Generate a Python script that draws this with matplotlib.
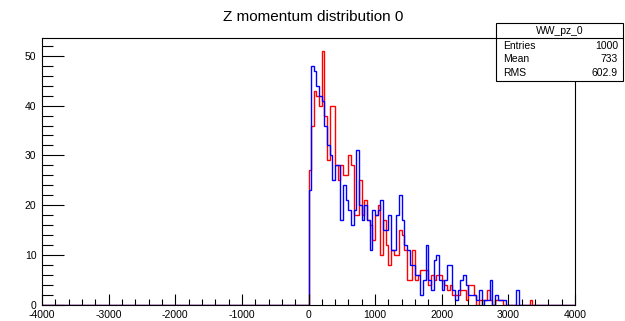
#!/usr/bin/env python3
"""Z momentum distribution, drawn in the style of a ROOT TH1 canvas."""

import numpy as np
import matplotlib
matplotlib.use("Agg")
import matplotlib.pyplot as plt
from matplotlib.ticker import MultipleLocator
from matplotlib.patches import Rectangle

plt.rcParams['font.family'] = ['Liberation Sans', 'DejaVu Sans']

# 200 bins of width 40 from -4000 to 4000; counts below are for bins starting at 0
x_min, x_max, n_bins = -4000, 4000, 200

blue_counts = [23, 48, 47, 44, 42, 41, 36, 32, 30, 25, 28, 28, 17, 24, 21, 19, 16, 19,
               31, 20, 17, 20, 17, 11, 19, 18, 19, 21, 15, 15, 18, 11, 11, 18, 22, 17,
               12, 11, 8, 8, 6, 6, 2, 5, 12, 5, 3, 9, 10, 5, 3, 5, 8, 8, 3, 1, 3, 5,
               6, 4, 2, 2, 2, 1, 3, 0, 1, 1, 5, 0, 2, 1, 1, 1, 0, 0, 0, 0, 3]
red_counts = [27, 36, 43, 42, 40, 51, 38, 29, 40, 40, 28, 25, 28, 26, 26, 30, 28, 18,
              18, 25, 18, 21, 17, 16, 13, 18, 20, 10, 17, 12, 8, 11, 10, 10, 15, 14,
              11, 5, 5, 11, 5, 6, 7, 7, 7, 4, 6, 5, 6, 6, 5, 4, 3, 4, 2, 2, 2, 3, 3,
              1, 4, 4, 2, 0, 1, 1, 1, 3, 1, 0, 1, 1, 1, 0, 0, 0, 0, 0, 0, 0, 0, 0, 0, 1]

x_ticks = [-4000, -3000, -2000, -1000, 0, 1000, 2000, 3000, 4000]
y_ticks = [0, 10, 20, 30, 40, 50]

title = "Z momentum distribution 0"
stats_name = "WW_pz_0"
stats_rows = [("Entries", "1000"), ("Mean", "733"), ("RMS", "602.9")]


def full_hist(counts):
    h = np.zeros(n_bins)
    start = n_bins // 2
    h[start:start + len(counts)] = counts
    return h


W, H = 625, 321
fig = plt.figure(figsize=(W / 100, H / 100), dpi=100)
fig.patch.set_facecolor('white')

left, right, top, bottom = 42, 575, 38, 305
ax = fig.add_axes([left / W, 1 - bottom / H, (right - left) / W, (bottom - top) / H])

edges = np.linspace(x_min, x_max, n_bins + 1)
ax.stairs(full_hist(red_counts), edges, color='#ff0000', linewidth=1.0)
ax.stairs(full_hist(blue_counts), edges, color='#0000ff', linewidth=1.0)

ax.set_xlim(x_min, x_max)
ax.set_ylim(0, 53.55)
ax.set_xticks(x_ticks)
ax.set_xticklabels([str(v) for v in x_ticks])
ax.set_yticks(y_ticks)
ax.set_yticklabels([str(v) for v in y_ticks])
ax.xaxis.set_minor_locator(MultipleLocator(200))
ax.yaxis.set_minor_locator(MultipleLocator(2))

ax.tick_params(axis='both', which='both', direction='in', top=False, right=False,
               labelsize=7.5, width=0.8)
ax.tick_params(axis='x', which='major', length=8, pad=3.5)
ax.tick_params(axis='x', which='minor', length=4)
ax.tick_params(axis='y', which='major', length=16, pad=4)
ax.tick_params(axis='y', which='minor', length=8)
for s in ax.spines.values():
    s.set_linewidth(0.8)

fig.text(313 / W, 1 - 17 / H, title, ha='center', va='center', fontsize=11)

# stats box
bx0, bx1, by0, by1, hdr = 496, 623, 23, 81, 38
fig.patches.append(Rectangle((bx0 / W, 1 - by1 / H), (bx1 - bx0) / W, (by1 - by0) / H,
                             transform=fig.transFigure, facecolor='white',
                             edgecolor='black', linewidth=0.8, zorder=5))
fig.lines.append(plt.Line2D([bx0 / W, bx1 / W], [1 - hdr / H, 1 - hdr / H],
                            transform=fig.transFigure, color='black', linewidth=0.8, zorder=6))
fig.text((bx0 + bx1) / 2 / W, 1 - 31 / H, stats_name, ha='center', va='center',
         fontsize=7.5, zorder=7)
for i, (name, val) in enumerate(stats_rows):
    y = 1 - (46 + i * 13.3) / H
    fig.text(503 / W, y, name, ha='left', va='center', fontsize=7.5, zorder=7)
    fig.text(618 / W, y, val, ha='right', va='center', fontsize=7.5, zorder=7)

fig.savefig('out.png', dpi=100)
